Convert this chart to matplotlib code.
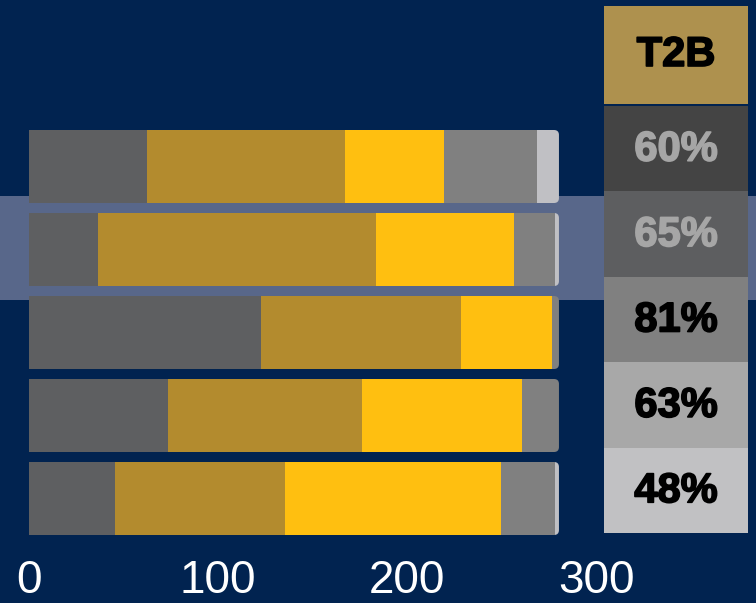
import numpy as np
import matplotlib.pyplot as plt
from matplotlib.patches import FancyBboxPatch, Rectangle
import matplotlib.patheffects as pe

# data (5 rows, top to bottom)
seg_dark = [62.4, 36.5, 122.8, 73.5, 45.5]
seg_gold = [104.8, 147.1, 105.8, 102.6, 89.9]
seg_yellow = [52.4, 73.0, 48.1, 84.7, 114.3]
seg_grey = [49.2, 21.7, 3.7, 19.6, 28.6]
seg_light = [11.6, 2.1, 0.0, 0.0, 2.1]
t2b_labels = ["60%", "65%", "81%", "63%", "48%"]
xticks = [0, 100, 200, 300]

seg_colors = ["#5e5f61", "#b38b2e", "#ffbf10", "#808080", "#c0c0c4"]
tab_colors = ["#444444", "#5d5e60", "#808080", "#a8a8a8", "#c1c1c3"]
tab_text = ["#a6a6a6", "#a6a6a6", "black", "black", "black"]
bg = "#012350"

W, H = 756, 603
fig = plt.figure(figsize=(W / 100, H / 100), dpi=100)
fig.patch.set_facecolor(bg)

# main axes: full width, down to pixel 548
ax_bottom = 548
ax = fig.add_axes([0, (H - ax_bottom) / H, 1, ax_bottom / H])
ax.set_facecolor(bg)
px_per_unit = 1.89
x0 = 29
ax.set_xlim(-x0 / px_per_unit, (W - x0) / px_per_unit)
row_px = 83
ax.set_ylim((ax_bottom - 166.5) / row_px, -166.5 / row_px)

# highlight band behind row 2
ax.axhspan(1 - 0.65, 1 + 0.61, color="#58678a", zorder=0, lw=0)

rows = np.arange(5)
segs = [seg_dark, seg_gold, seg_yellow, seg_grey, seg_light]
h = 73 / row_px
for i in rows:
    total = sum(s[i] for s in segs)
    clip = FancyBboxPatch((-10, i - h / 2), total + 10, h,
                          boxstyle="round,pad=0,rounding_size=2.6",
                          mutation_aspect=(px_per_unit / row_px),
                          transform=ax.transData, fc="none", ec="none")
    ax.add_patch(clip)
    left = 0
    for s, c in zip(segs, seg_colors):
        if s[i] > 0:
            bar = ax.barh(i, s[i], left=left, height=h, color=c, lw=0, zorder=2)
            for p in bar:
                p.set_clip_path(clip)
        left += s[i]

ax.set_xticks(xticks)
ax.set_xticklabels([str(t) for t in xticks], color="white", fontsize=33,
                   family="Liberation Sans")
ax.tick_params(axis="x", length=0, pad=8)
ax.set_yticks([])
for sp in ax.spines.values():
    sp.set_visible(False)

# T2B table on the right
tab = fig.add_axes([604 / W, (H - 533) / H, 144 / W, 527 / H])
tab.set_xlim(0, 1)
tab.set_ylim(533, 6)
tab.axis("off")
bold = dict(family="Liberation Sans", weight="bold", fontsize=30,
            ha="center", va="center")
tab.add_patch(Rectangle((0, 6), 1, 98, color="#ae914e", lw=0))
tab.text(0.5, 55, "T2B", color="black",
         path_effects=[pe.withStroke(linewidth=1.2, foreground="black")], **bold)
top = 106
rh = (533 - top) / 5
for i, (lab, c, tc) in enumerate(zip(t2b_labels, tab_colors, tab_text)):
    y = top + i * rh
    tab.add_patch(Rectangle((0, y), 1, rh, color=c, lw=0))
    tab.text(0.5, y + rh / 2 + 1, lab, color=tc,
             path_effects=[pe.withStroke(linewidth=1.2, foreground=tc)], **bold)

fig.savefig("out.png", dpi=100, facecolor=bg)
